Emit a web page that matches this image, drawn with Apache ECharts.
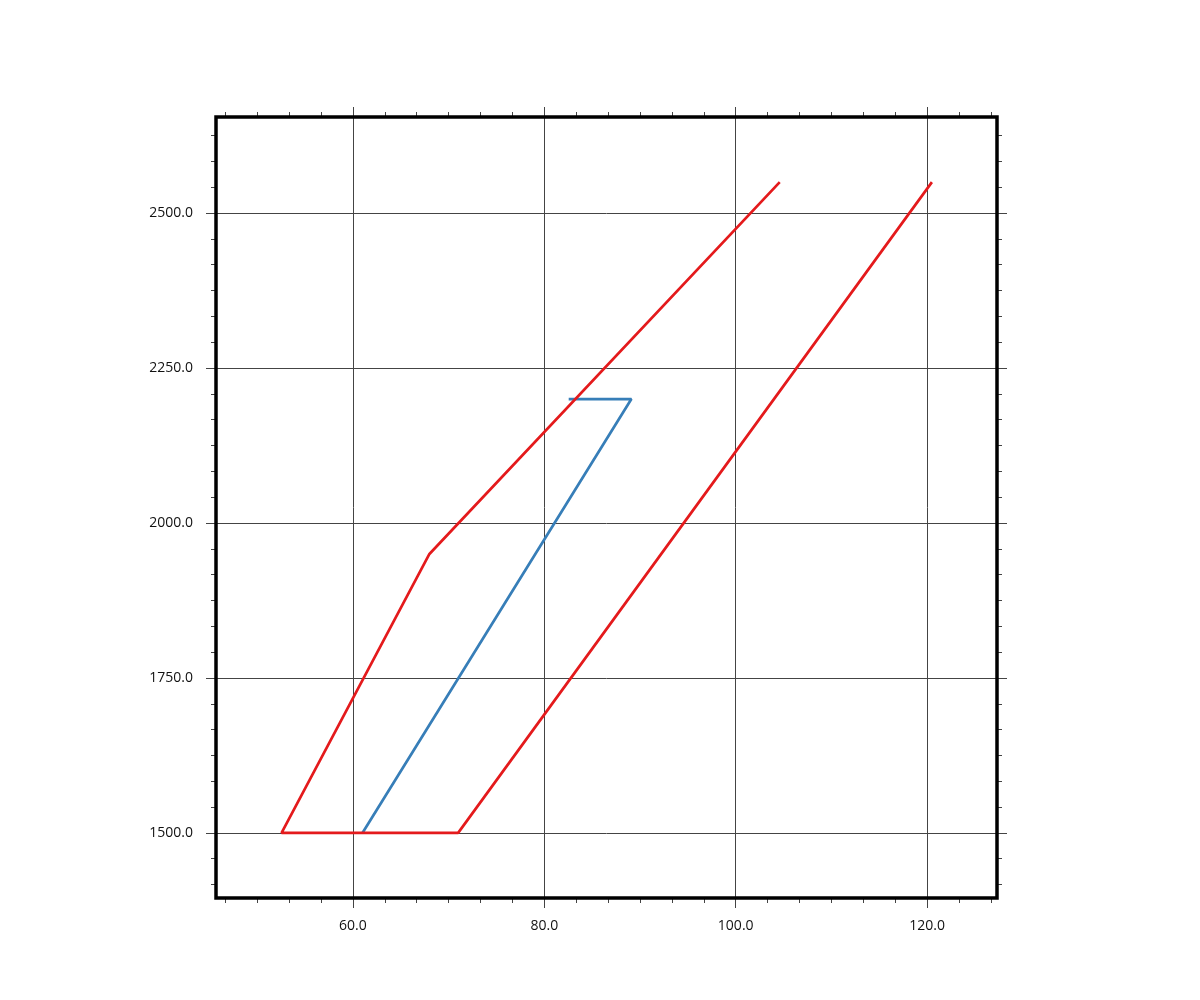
<!DOCTYPE html>
<html>
<head>
<meta charset="utf-8">
<script src="https://cdn.jsdelivr.net/npm/echarts@6/dist/echarts.min.js"></script>
<style>html,body{margin:0;padding:0;background:#fff;}#chart{width:1200px;height:1000px;}</style>
</head>
<body>
<div id="chart"></div>
<script>
// Data
const redX = [104.6, 68.0, 52.55, 71.0, 120.5];
const redY = [2550, 1950, 1500, 1500, 2550];
const blueX = [82.55, 89.1, 61.0];
const blueY = [2200, 2200, 1500];
const xMajorTicks = [60, 80, 100, 120];
const yMajorTicks = [1500, 1750, 2000, 2250, 2500];
const xRange = [45.7, 127.3];
const yRange = [1395, 2655];

function minors(majors, sub, lo, hi) {
  const step = (majors[1] - majors[0]) / sub;
  const out = [];
  for (let v = majors[0]; v >= lo; v -= step) out.push(+v.toFixed(4));
  for (let v = majors[0] + step; v <= hi; v += step) out.push(+v.toFixed(4));
  return out.sort((a, b) => a - b);
}
const xMinorTicks = minors(xMajorTicks, 6, xRange[0], xRange[1]);
const yMinorTicks = minors(yMajorTicks, 6, yRange[0], yRange[1]);

const lineColor = '#444';
const font = { fontFamily: 'Open Sans', fontSize: 14, color: '#111' };

function axis(kind, pos, ticks, len, withLabels, withSplit, range) {
  return {
    type: 'value', position: pos, min: range[0], max: range[1],
    axisLine: { show: false },
    axisTick: { show: true, inside: false, length: len, customValues: ticks, lineStyle: { color: lineColor, width: 1 } },
    axisLabel: withLabels
      ? Object.assign({ show: true, customValues: ticks, margin: kind === 'x' ? 21 : 23, formatter: v => Number(v).toFixed(1) }, font)
      : { show: false },
    splitLine: { show: withSplit, lineStyle: { color: lineColor, width: 1 } },
    minorTick: { show: false }
  };
}

const chart = echarts.init(document.getElementById('chart'), null, { renderer: 'canvas' });
chart.setOption({
  backgroundColor: '#fff',
  animation: false,
  grid: { left: 216, right: 203, top: 117, bottom: 102, show: true, borderColor: '#000', borderWidth: 3.5, backgroundColor: 'transparent', z: 10 },
  xAxis: [
    axis('x', 'bottom', xMajorTicks, 10, true, true, xRange),
    axis('x', 'bottom', xMinorTicks, 5, false, false, xRange),
    axis('x', 'top', xMajorTicks, 10, false, false, xRange),
    axis('x', 'top', xMinorTicks, 5, false, false, xRange)
  ],
  yAxis: [
    axis('y', 'left', yMajorTicks, 10, true, true, yRange),
    axis('y', 'left', yMinorTicks, 5, false, false, yRange),
    axis('y', 'right', yMajorTicks, 10, false, false, yRange),
    axis('y', 'right', yMinorTicks, 5, false, false, yRange)
  ],
  series: [
    {
      type: 'line', xAxisIndex: 0, yAxisIndex: 0, symbol: 'none',
      data: blueX.map((x, i) => [x, blueY[i]]),
      lineStyle: { color: '#377eb8', width: 2.7 }, z: 3
    },
    {
      type: 'line', xAxisIndex: 0, yAxisIndex: 0, symbol: 'none',
      data: redX.map((x, i) => [x, redY[i]]),
      lineStyle: { color: '#e41a1c', width: 2.7 }, z: 4
    }
  ]
});
</script>
</body>
</html>
